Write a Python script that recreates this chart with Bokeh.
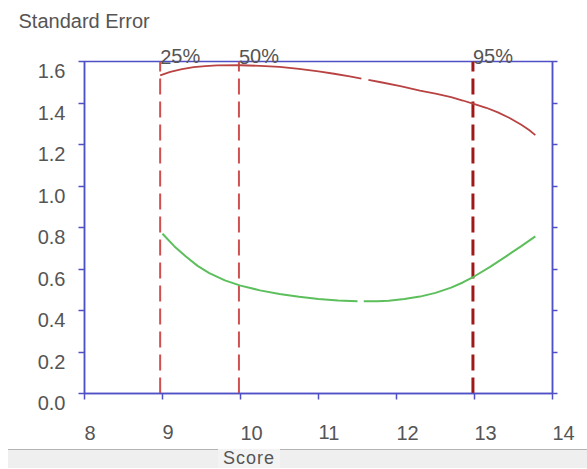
import numpy as np
from bokeh.plotting import figure
from bokeh.layouts import column
from bokeh.models import Range1d, FixedTicker, LinearAxis, ColumnDataSource, Div
from bokeh.embed import file_html
from bokeh.resources import INLINE

# ---- data ----
red_x = [8.97, 9.1, 9.25, 9.4, 9.55, 9.7, 10.0, 10.25, 10.5, 10.75, 11.0, 11.2, 11.4, 11.55, 11.6,
         11.64, 11.8, 12.05, 12.3, 12.5, 12.7, 12.85, 13.0, 13.15, 13.3, 13.45, 13.6, 13.7, 13.78]
red_y = [1.533, 1.550, 1.563, 1.573, 1.578, 1.581, 1.582, 1.579, 1.574, 1.564, 1.552, 1.541, 1.528, 1.518, np.nan,
         1.512, 1.500, 1.481, 1.460, 1.445, 1.428, 1.412, 1.395, 1.377, 1.355, 1.328, 1.295, 1.270, 1.245]
green_x = [9.0, 9.15, 9.3, 9.45, 9.6, 9.8, 10.0, 10.25, 10.5, 10.75, 11.0, 11.25, 11.5, 11.54,
           11.58, 11.75, 11.9, 12.1, 12.3, 12.5, 12.7, 12.85, 13.0, 13.2, 13.4, 13.6, 13.78]
green_y = [0.77, 0.71, 0.66, 0.615, 0.58, 0.545, 0.52, 0.497, 0.48, 0.466, 0.455, 0.448, 0.445, np.nan,
           0.445, 0.445, 0.447, 0.455, 0.467, 0.485, 0.51, 0.535, 0.565, 0.61, 0.66, 0.71, 0.757]
pct_x = [8.97, 9.98, 12.98]
pct_labels = ["25%", "50%", "95%"]
pct_colors = ["#d05050", "#d05050", "#a01818"]
pct_widths = [2, 2, 3]
x_ticks = [8, 9, 10, 11, 12, 13, 14]
y_ticks = [0.0, 0.2, 0.4, 0.6, 0.8, 1.0, 1.2, 1.4, 1.6]
y_tick_labels = ["0.0", "0.2", "0.4", "0.6", "0.8", "1.0", "1.2", "1.4", "1.6"]

FONT = "Liberation Sans"
TXT = "#555555"
BLUE = "#4f4fc6"

p = figure(width=587, height=449, output_backend="svg", toolbar_location=None,
           x_range=Range1d(8, 14), y_range=Range1d(0, 1.6), title="Standard Error",
           min_border_left=84, min_border_right=35, min_border_top=61, min_border_bottom=53)
p.grid.visible = False
p.outline_line_color = BLUE
p.outline_line_width = 1.5
p.background_fill_color = "white"
p.border_fill_color = "white"

p.title.text_font = FONT
p.title.text_font_size = "20px"
p.title.text_font_style = "normal"
p.title.text_color = TXT
p.title.align = "left"
p.title.offset = -66
p.title.standoff = 0

for ax in (p.xaxis[0], p.yaxis[0]):
    ax.axis_line_color = BLUE
    ax.axis_line_width = 1.5
    ax.major_tick_line_color = BLUE
    ax.major_tick_line_width = 1.5
    ax.major_tick_in = 0
    ax.major_tick_out = 6
    ax.minor_tick_line_color = None
    ax.major_label_text_font = FONT
    ax.major_label_text_font_size = "20px"
    ax.major_label_text_color = TXT

p.xaxis.ticker = FixedTicker(ticks=x_ticks)
p.xaxis.major_label_orientation = -1e-6
p.xaxis.major_label_standoff = 33
p.yaxis.ticker = FixedTicker(ticks=y_ticks)
p.yaxis.major_label_overrides = {t: "\n" + s for t, s in zip(y_ticks, y_tick_labels)}
p.yaxis.major_label_text_line_height = 0.9
p.yaxis.major_label_standoff = 13

right = LinearAxis(ticker=FixedTicker(ticks=y_ticks), axis_line_color=BLUE, axis_line_width=1.5,
                   major_tick_line_color=BLUE, major_tick_line_width=1.5, major_tick_in=0, major_tick_out=5,
                   minor_tick_line_color=None, major_label_text_font_size="0px", major_label_text_color=None)
p.add_layout(right, "right")

top = LinearAxis(ticker=FixedTicker(ticks=pct_x),
                 major_label_overrides={xx: lab for xx, lab in zip(pct_x, pct_labels)},
                 axis_line_color=None, major_tick_line_color=None, minor_tick_line_color=None,
                 major_tick_in=0, major_tick_out=0, major_label_standoff=5,
                 major_label_orientation=1e-6, major_label_text_font=FONT,
                 major_label_text_font_size="20px", major_label_text_color=TXT)
p.add_layout(top, "above")

# vertical percentile lines
src = ColumnDataSource(dict(x=pct_x, y0=[0] * 3, y1=[1.6] * 3, c=pct_colors, w=pct_widths))
p.segment(x0="x", y0="y0", x1="x", y1="y1", source=src, line_color="c", line_width="w", line_dash="16 7")

p.line(red_x, red_y, line_color="#b94343", line_width=1.8)
p.line(green_x, green_y, line_color="#5cbf5c", line_width=2)

# bottom band with axis name
band_html = (
    '<div style="position:relative;width:579px;height:19px;margin-left:8px;background:#efefef;'
    'border-top:1px solid #b4b4b4;">'
    '<span style="position:absolute;left:210px;top:-1px;width:62px;height:19px;background:#f3f3f3;'
    'text-align:center;font-family:\'Liberation Sans\';font-size:18px;line-height:19px;'
    'letter-spacing:1px;color:#555555;">Score</span></div>'
)
band = Div(text=band_html, width=587, height=20, margin=0)

layout = column(p, band, spacing=0)
open("out.html", "w").write(file_html(layout, INLINE))
